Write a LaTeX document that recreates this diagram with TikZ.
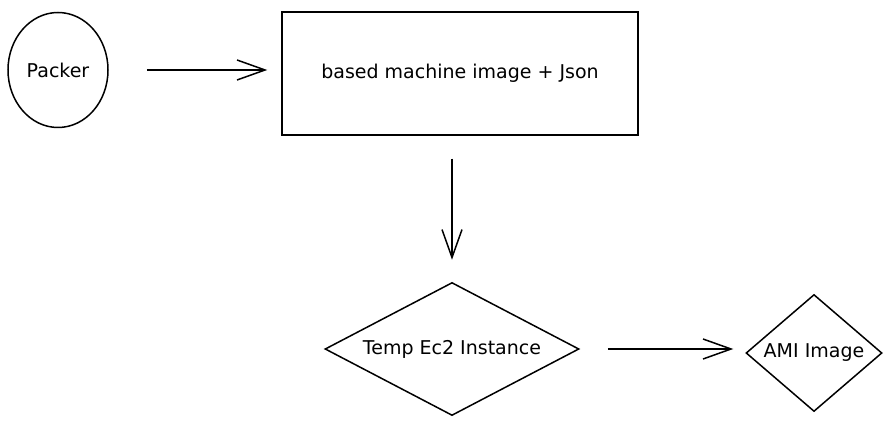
\documentclass[tikz,border=0pt]{standalone}
\usepackage{amsmath}
\usepackage{fontspec}
\setmainfont{DejaVu Sans}
\usepackage{tikz}
\usetikzlibrary{shapes.geometric,arrows.meta}

\begin{document}
\begin{tikzpicture}[x=1pt,y=-1pt,line width=1.5pt,
  font=\fontsize{19}{22}\selectfont,
  >={Straight Barb[length=28pt,width=20pt]},
  flow/.style={->},
  blob/.style={ellipse,draw=black,minimum width=100pt,minimum height=115pt},
  box/.style={rectangle,draw=black,minimum width=356pt,minimum height=123pt},
  gem/.style={diamond,draw=black,inner sep=0pt}]
\useasboundingbox (0,0) rectangle (890,427);

\node[blob] (packer) at (58,70) {Packer};
\node[box] (base) at (460,73.5) {based machine image + Json};
\node[gem,minimum width=254pt,minimum height=133pt,aspect=1.9] (temp) at (452,349) {Temp Ec2 Instance};
\node[gem,minimum width=136pt,minimum height=117pt,aspect=1.16] (ami) at (814,353) {AMI Image};

\draw[flow,shorten <=38pt,shorten >=14pt] (packer.east) -- (packer.east -| base.west);
\draw[flow,shorten <=23pt,shorten >=22pt] (base.south -| temp.north) -- (temp.north);
\draw[flow,shorten <=28pt,shorten >=12pt] (temp.east) -- (temp.east -| ami.west);
\end{tikzpicture}
\end{document}
